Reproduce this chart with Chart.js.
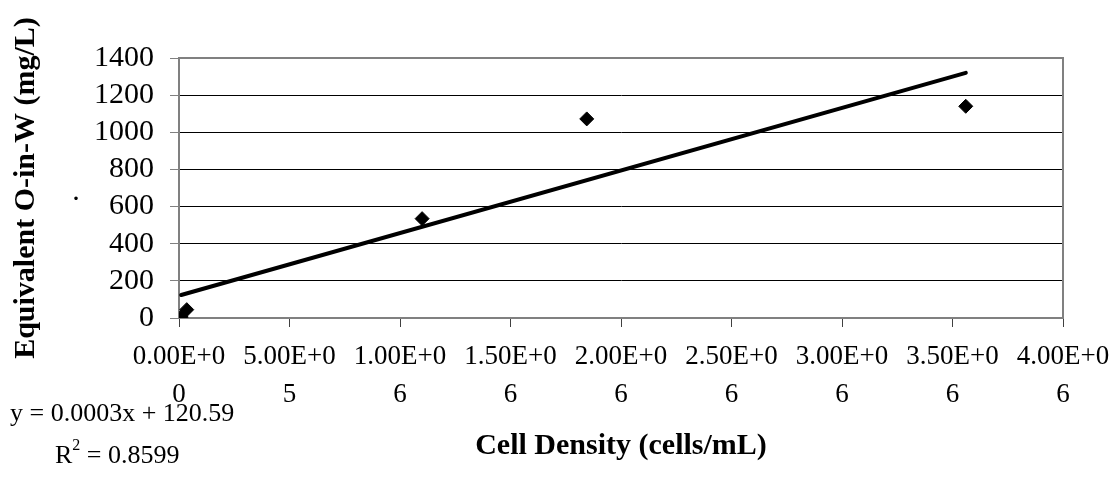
<!DOCTYPE html>
<html>
<head>
<meta charset="utf-8">
<script src="https://cdn.jsdelivr.net/npm/chart.js@4"></script>
<style>
  html, body { margin: 0; padding: 0; background: #fff; }
  canvas { display: block; }
</style>
</head>
<body>
<canvas id="densityChart" width="1112" height="482"></canvas>
<script>
// measured points (cells/mL vs mg/L)
const cellDensity = [10000, 35000, 1100000, 1845000, 3560000];
const oilInWater = [5, 45, 535, 1072, 1140];

// trendline ends
const trendX = [10000, 3560000];
const trendY = [124, 1320];

// x tick labels are wrapped in two lines in the original
const xTickTop = ['0.00E+0', '5.00E+0', '1.00E+0', '1.50E+0', '2.00E+0', '2.50E+0', '3.00E+0', '3.50E+0', '4.00E+0'];
const xTickBottom = ['0', '5', '6', '6', '6', '6', '6', '6', '6'];
const yTicks = [0, 200, 400, 600, 800, 1000, 1200, 1400];

const equationText = 'y = 0.0003x + 120.59';
const r2Value = ' = 0.8599';

const serif = "'Liberation Serif', 'Times New Roman', serif";
const axisGray = '#808080';

const extras = {
    id: 'extras',
    beforeDatasetsDraw(chart) {
        const { ctx, chartArea: a } = chart;
        ctx.save();
        ctx.strokeStyle = axisGray;
        ctx.lineWidth = 2;
        ctx.beginPath();
        ctx.moveTo(a.left, a.top);
        ctx.lineTo(a.right, a.top);
        ctx.lineTo(a.right, a.bottom);
        ctx.stroke();
        ctx.restore();
    },
    afterDraw(chart) {
        const ctx = chart.ctx;
        ctx.save();
        ctx.fillStyle = '#000';
        ctx.textBaseline = 'middle';
        ctx.textAlign = 'left';
        ctx.font = '26px ' + serif;
        ctx.fillText(equationText, 10, 414);
        ctx.fillText('R', 55, 456);
        const rw = ctx.measureText('R').width;
        ctx.font = '16px ' + serif;
        ctx.fillText('2', 55 + rw, 446);
        const sw = ctx.measureText('2').width;
        ctx.font = '26px ' + serif;
        ctx.fillText(r2Value, 55 + rw + sw, 456);
        // stray dot left of the axis
        ctx.font = '30px ' + serif;
        ctx.textAlign = 'center';
        ctx.fillText('.', 76, 192);
        ctx.restore();
    }
};

const ctx = document.getElementById('densityChart').getContext('2d');
const densityChart = new Chart(ctx, {
    type: 'scatter',
    data: {
        datasets: [{
            label: 'Data',
            data: cellDensity.map((x, i) => ({ x: x, y: oilInWater[i] })),
            pointStyle: 'rectRot',
            pointRadius: 7,
            pointHoverRadius: 7,
            backgroundColor: '#000',
            borderColor: '#000',
            borderWidth: 1
        }, {
            label: 'Linear',
            type: 'line',
            data: trendX.map((x, i) => ({ x: x, y: trendY[i] })),
            borderColor: '#000',
            borderWidth: 4,
            borderCapStyle: 'round',
            pointRadius: 0,
            fill: false
        }]
    },
    options: {
        responsive: false,
        animation: false,
        layout: { padding: { top: 58, right: 49, left: 0, bottom: 0 } },
        plugins: {
            legend: { display: false },
            tooltip: { enabled: false }
        },
        scales: {
            x: {
                type: 'linear',
                min: 0,
                max: 4000000,
                afterFit: (scale) => {
                    scale.height = 164;
                    scale.paddingRight = 0;
                    scale.paddingLeft = 0;
                },
                afterBuildTicks: (scale) => {
                    scale.ticks = xTickTop.map((t, i) => ({ value: i * 500000 }));
                },
                ticks: {
                    autoSkip: false,
                    maxRotation: 0,
                    padding: 11,
                    color: '#000',
                    font: { family: serif, size: 27, lineHeight: 1.4 },
                    callback: (v, i) => [xTickTop[i], xTickBottom[i]]
                },
                grid: {
                    drawOnChartArea: false,
                    drawTicks: true,
                    tickLength: 9,
                    tickColor: '#404040',
                    lineWidth: 1
                },
                border: { color: axisGray, width: 2 },
                title: {
                    display: true,
                    text: 'Cell Density (cells/mL)',
                    color: '#000',
                    font: { family: serif, size: 30, weight: 'bold', lineHeight: 1.2 },
                    padding: { top: 0, bottom: 18 }
                }
            },
            y: {
                min: 0,
                max: 1400,
                afterFit: (scale) => { scale.width = 179; },
                afterBuildTicks: (scale) => {
                    scale.ticks = yTicks.map((v) => ({ value: v }));
                },
                ticks: {
                    autoSkip: false,
                    padding: 16,
                    color: '#000',
                    font: { family: serif, size: 30 },
                    callback: (v) => String(v)
                },
                grid: {
                    color: (c) => (c.tick && (c.tick.value === 1400 || c.tick.value === 0)) ? axisGray : '#000',
                    lineWidth: 1,
                    tickLength: 9,
                    tickColor: axisGray
                },
                border: { color: axisGray, width: 2 },
                title: {
                    display: true,
                    text: 'Equivalent O-in-W (mg/L)',
                    color: '#000',
                    font: { family: serif, size: 30, weight: 'bold', lineHeight: 1.2 },
                    padding: { top: 8, bottom: 0 }
                }
            }
        }
    },
    plugins: [extras]
});
</script>
</body>
</html>
